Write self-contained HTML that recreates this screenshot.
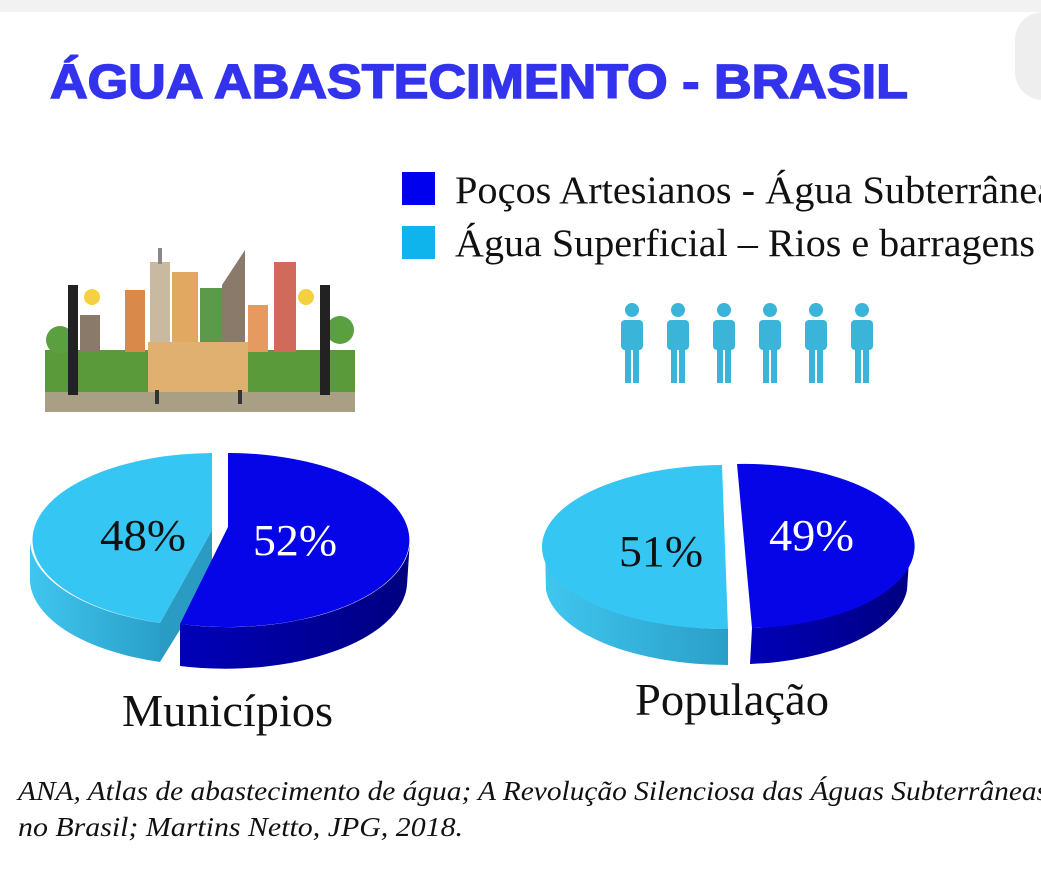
<!DOCTYPE html>
<html><head><meta charset="utf-8"><style>
html,body{margin:0;padding:0;background:#fff;width:1041px;height:895px;overflow:hidden}
svg text{font-family:"Liberation Serif",serif}
</style></head><body>
<svg width="1041" height="895" viewBox="0 0 1041 895" xmlns="http://www.w3.org/2000/svg">
<defs>
<linearGradient id="lside" x1="0" x2="1"><stop offset="0" stop-color="#3fc6ef"/><stop offset="1" stop-color="#2a9fc8"/></linearGradient>
<linearGradient id="dside" x1="0" x2="1"><stop offset="0" stop-color="#0000b8"/><stop offset="1" stop-color="#000080"/></linearGradient>
</defs>
<rect x="0" y="0" width="1041" height="12" fill="#f2f2f2"/>
<rect x="1015" y="12" width="60" height="88" rx="28" fill="#eeeeee"/>
<text x="50" y="98" font-weight="bold" font-size="48" fill="#3333ee" textLength="858" lengthAdjust="spacingAndGlyphs" stroke="#3333ee" stroke-width="1.5" style="font-family:'Liberation Sans',sans-serif">ÁGUA ABASTECIMENTO - BRASIL</text>
<rect x="402" y="172" width="33" height="33" fill="#0000ee"/>
<rect x="402" y="226" width="33" height="33" fill="#10b4ec"/>
<text x="455" y="203" font-size="39" fill="#111" textLength="600" lengthAdjust="spacingAndGlyphs">Poços Artesianos - Água Subterrânea</text>
<text x="455" y="256" font-size="39" fill="#111" textLength="580" lengthAdjust="spacingAndGlyphs">Água Superficial – Rios e barragens</text>
<!-- city -->
<rect x="45" y="390" width="310" height="22" fill="#a89f84"/>
<rect x="45" y="350" width="310" height="42" fill="#5a9a3a"/>
<rect x="125" y="290" width="20" height="62" fill="#d98a4a"/>
<rect x="150" y="262" width="20" height="90" fill="#c9b9a0"/>
<rect x="158" y="248" width="4" height="16" fill="#888"/>
<rect x="172" y="272" width="26" height="80" fill="#e0a860"/>
<rect x="200" y="288" width="22" height="64" fill="#5a9a4a"/>
<polygon points="222,285 245,250 245,352 222,352" fill="#8a7a6a"/>
<rect x="248" y="305" width="20" height="47" fill="#e69a60"/>
<rect x="274" y="262" width="22" height="90" fill="#d06a5a"/>
<rect x="80" y="315" width="20" height="37" fill="#8a7a6a"/>
<circle cx="60" cy="340" r="14" fill="#5aa040"/>
<circle cx="340" cy="330" r="14" fill="#5aa040"/>
<rect x="148" y="342" width="100" height="50" fill="#e0b070"/>
<rect x="155" y="390" width="4" height="14" fill="#333"/><rect x="238" y="390" width="4" height="14" fill="#333"/>
<rect x="68" y="285" width="10" height="110" fill="#222"/><circle cx="92" cy="297" r="8" fill="#f5d040"/>
<rect x="320" y="285" width="10" height="110" fill="#222"/><circle cx="306" cy="297" r="8" fill="#f5d040"/>
<!-- people -->
<g fill="#3ab4d8">
<g id="p"><circle cx="632" cy="310" r="7"/><rect x="621" y="320" width="22" height="30" rx="4"/><rect x="625" y="345" width="6" height="38"/><rect x="633" y="345" width="6" height="38"/></g>
<use href="#p" x="46"/><use href="#p" x="92"/><use href="#p" x="138"/><use href="#p" x="184"/><use href="#p" x="230"/>
</g>
<!-- pie 1 -->
<path d="M30,540 L30,582 A182,87 0 0 0 160,662 L160,623 A182,87 0 0 1 30,540Z" fill="url(#lside)"/>
<path d="M212,530 L160,623 L160,662 L212,578Z" fill="#2a9cc4"/>
<path d="M212,453 A182,87 0 0 0 160,623 L212,530 Z" fill="#36c6f4"/>
<path d="M410,540 L407,585 A182,87 0 0 1 180,666 L180,624 A182,87 0 0 0 410,540Z" fill="url(#dside)"/>
<path d="M228,453 A182,87 0 1 1 180,624 L228,527 Z" fill="#0505e8"/>
<!-- pie 2 -->
<path d="M545,547 L546,590 A183,82 0 0 0 728,665 L728,629 A183,82 0 0 1 545,547Z" fill="url(#lside)"/>
<path d="M722,465 A183,82 0 0 0 728,629 Z" fill="#36c6f4"/>
<path d="M910,546 L907,590 A170,82 0 0 1 750,664 L752,628 A170,82 0 0 0 910,546Z" fill="url(#dside)"/>
<path d="M737,464 A170,82 0 0 1 752,628 Z" fill="#0505e8"/>
<text x="100" y="550" font-size="44" fill="#111" textLength="86" lengthAdjust="spacingAndGlyphs">48%</text>
<text x="253" y="555" font-size="44" fill="#fff" textLength="84" lengthAdjust="spacingAndGlyphs">52%</text>
<text x="619" y="566" font-size="44" fill="#111" textLength="84" lengthAdjust="spacingAndGlyphs">51%</text>
<text x="769" y="550" font-size="44" fill="#fff" textLength="85" lengthAdjust="spacingAndGlyphs">49%</text>
<text x="122" y="726" font-size="46" fill="#111" textLength="211" lengthAdjust="spacingAndGlyphs">Municípios</text>
<text x="635" y="715" font-size="46" fill="#111" textLength="194" lengthAdjust="spacingAndGlyphs">População</text>
<text x="18" y="800" font-size="27" font-style="italic" fill="#111" textLength="1030" lengthAdjust="spacingAndGlyphs">ANA, Atlas de abastecimento de água; A Revolução Silenciosa das Águas Subterrâneas</text>
<text x="18" y="836" font-size="27" font-style="italic" fill="#111" textLength="445" lengthAdjust="spacingAndGlyphs">no Brasil; Martins Netto, JPG, 2018.</text>
</svg>
</body></html>
